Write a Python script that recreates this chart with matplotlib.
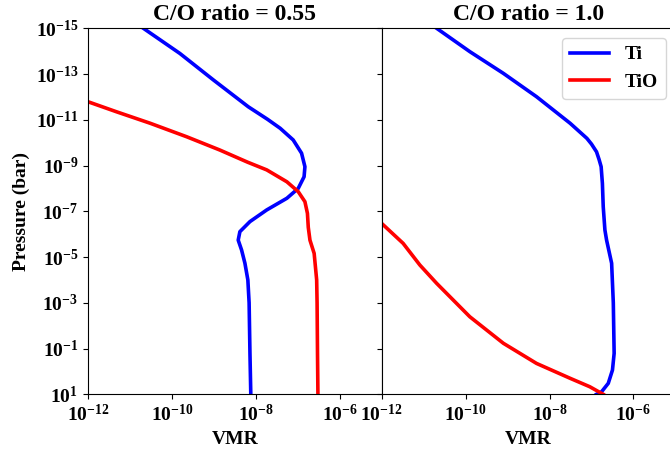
import numpy as np
import matplotlib
matplotlib.use("Agg")
import matplotlib.pyplot as plt

plt.rcParams['font.family'] = ['Liberation Serif', 'DejaVu Serif']
plt.rcParams['font.weight'] = 'bold'
plt.rcParams['axes.labelweight'] = 'bold'
plt.rcParams['axes.titleweight'] = 'bold'

# values, stored as log10
# C/O = 0.55
ti_055_logx = [-10.68, -9.81, -9.01, -8.18, -7.72, -7.42, -7.11, -6.91, -6.83, -6.85, -6.99,
               -7.26, -7.74, -8.14, -8.38, -8.42, -8.34, -8.26, -8.19, -8.16, -8.14, -8.12]
ti_055_logp = [-15.0, -13.9, -12.74, -11.57, -11.02, -10.63, -10.12, -9.54, -8.95, -8.51, -8.00,
               -7.57, -7.06, -6.55, -6.11, -5.74, -5.31, -4.73, -4.00, -3.0, -0.79, 1.0]
tio_055_logx = [-12.0, -11.32, -10.52, -9.65, -8.86, -8.20, -7.74, -7.26, -6.99, -6.83,
                -6.77, -6.75, -6.71, -6.61, -6.55, -6.54, -6.53, -6.52]
tio_055_logp = [-11.79, -11.35, -10.85, -10.26, -9.68, -9.15, -8.81, -8.29, -7.86, -7.42,
                -6.91, -6.3, -5.74, -5.16, -4.0, -3.0, -0.79, 1.0]

# C/O = 1.0
ti_10_logx = [-10.69, -9.90, -9.10, -8.31, -7.51, -7.11, -7.00, -6.88, -6.82, -6.77, -6.74,
              -6.72, -6.68, -6.64, -6.52, -6.48, -6.46, -6.50, -6.60, -6.76, -6.88]
ti_10_logp = [-15.0, -13.98, -13.03, -12.01, -10.85, -10.19, -9.94, -9.6, -9.27, -8.95, -8.22,
              -7.2, -6.18, -5.74, -4.73, -3.0, -0.79, -0.06, 0.52, 0.89, 1.0]
tio_10_logx = [-12.0, -11.49, -11.09, -10.69, -9.90, -9.10, -8.31, -7.51, -7.04, -6.72]
tio_10_logp = [-6.47, -5.6, -4.65, -3.85, -2.39, -1.23, -0.35, 0.3, 0.67, 1.0]

titles = ['C/O ratio = 0.55', 'C/O ratio = 1.0']

fig = plt.figure(figsize=(6.7, 4.54), dpi=100)
ax1 = fig.add_axes([88 / 670, 59.7 / 454, 293.7 / 670, 366 / 454])
ax2 = fig.add_axes([381.7 / 670, 59.7 / 454, 293.7 / 670, 366 / 454], sharey=ax1)

data = [(ti_055_logx, ti_055_logp, tio_055_logx, tio_055_logp),
        (ti_10_logx, ti_10_logp, tio_10_logx, tio_10_logp)]

for ax, (tx, tp, ox, op), title in zip([ax1, ax2], data, titles):
    ax.plot(10 ** np.array(tx), 10 ** np.array(tp), color='blue', lw=2.6, label='Ti')
    ax.plot(10 ** np.array(ox), 10 ** np.array(op), color='red', lw=2.6, label='TiO')
    ax.set_xscale('log')
    ax.set_yscale('log')
    ax.set_xlim(1e-12, 1e-5)
    ax.set_xticks([1e-12, 1e-10, 1e-8, 1e-6])
    ax.set_xlabel('VMR', fontsize=14)
    ax.set_title(title, fontsize=17)
    ax.tick_params(labelsize=14)

ax1.set_ylim(10, 1e-15)
ax1.set_yticks([1e1, 1e-1, 1e-3, 1e-5, 1e-7, 1e-9, 1e-11, 1e-13, 1e-15])
ax1.minorticks_off()
ax2.minorticks_off()
ax1.set_ylabel('Pressure (bar)', fontsize=14)
plt.setp(ax2.get_yticklabels(), visible=False)

ax2.legend(loc='upper right', fontsize=14)

fig.savefig('out.png', dpi=100)
